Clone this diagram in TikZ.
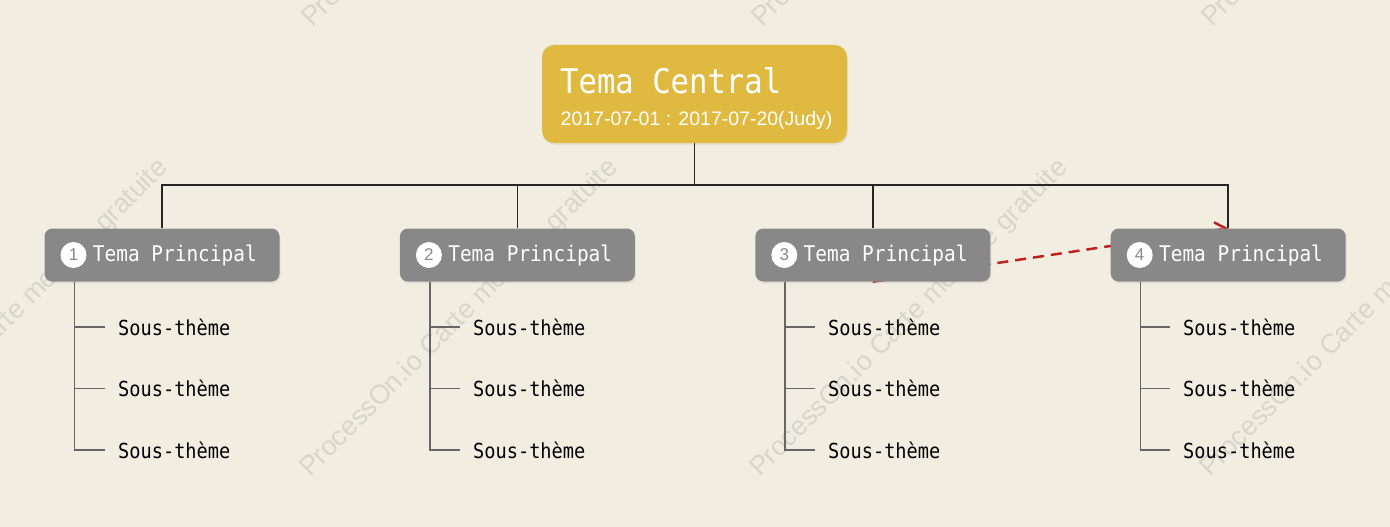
\documentclass[tikz,border=0pt]{standalone}
\usepackage{fontspec}
\setmainfont{Liberation Sans}
\newfontfamily\monofont[FakeStretch=0.9]{DejaVu Sans Mono}
\usetikzlibrary{positioning,
	calc,
	arrows.meta,
	shadows}
\definecolor{bgc}{RGB}{241,237,224}
\definecolor{gold}{RGB}{224,185,65}
\definecolor{topic}{RGB}{136,136,136}
\definecolor{wmc}{RGB}{216,213,203}
\definecolor{relc}{RGB}{192,33,31}
\pgfdeclarelayer{back}
\pgfdeclarelayer{mid}
\pgfsetlayers{back,mid,main}
\tikzstyle{ctr}=[fill=gold, rounded corners=12pt, minimum width=305pt, minimum height=98pt, inner sep=0,
		drop shadow={opacity=0.12, shadow xshift=1pt, shadow yshift=-2pt}]
\tikzstyle{ctt}=[text=white, inner sep=0, font=\monofont\fontsize{34}{34}\selectfont]
\tikzstyle{dat}=[text=white, inner sep=0, font=\fontsize{19.5}{20}\selectfont]
\tikzstyle{mt}=[fill=topic, rounded corners=8pt, minimum width=235pt, minimum height=53pt, inner sep=0,
		drop shadow={opacity=0.12, shadow xshift=1pt, shadow yshift=-2pt}]
\tikzstyle{num}=[circle, fill=white, text=topic, minimum size=26pt, inner sep=0, font=\fontsize{17}{17}\selectfont]
\tikzstyle{mtl}=[text=white, inner sep=0, font=\monofont\fontsize{21.6}{22}\selectfont]
\tikzstyle{sub}=[inner xsep=13pt, inner ysep=0, anchor=base west, font=\monofont\fontsize{20.7}{21}\selectfont]
\tikzstyle{link}=[draw=black!85, line width=1.5pt]
\tikzstyle{tick}=[draw=black!60, line width=1.6pt]
\tikzstyle{rel}=[draw=relc, line width=2.5pt, dash pattern=on 11pt off 7pt,
		-{Straight Barb[length=11pt,width=16pt]}]
\tikzstyle{wm}=[text=wmc, inner sep=0, rotate=45, anchor=base west, font=\fontsize{27}{27}\selectfont]

\begin{document}
\begin{tikzpicture}[x=1pt, y=-1pt]
	\useasboundingbox (0,0) rectangle (1390,527);
	\begin{pgfonlayer}{back}
		\fill[bgc] (0,0) rectangle (1390,527);
		\node[wm] (w1) at (-140,478) {ProcessOn.io Carte mentale gratuite};
		\node[wm] (w2) at (310,478) {ProcessOn.io Carte mentale gratuite};
		\node[wm] (w3) at (760,478) {ProcessOn.io Carte mentale gratuite};
		\node[wm] (w4) at (1210,478) {ProcessOn.io Carte mentale gratuite};
		\node[wm] (w5) at (312,28) {ProcessOn.io Carte mentale gratuite};
		\node[wm] (w6) at (762,28) {ProcessOn.io Carte mentale gratuite};
		\node[wm] (w7) at (1212,28) {ProcessOn.io Carte mentale gratuite};
	\end{pgfonlayer}

	% central topic
	\node[ctr] (ct) at (694.5,94) {};
	\node[ctt, anchor=base west] (ctl) at (560,93) {Tema Central};
	\node[dat, anchor=base west] (dt) at (560.5,125) {2017-07-01 : 2017-07-20(Judy)};

	% main topics
	\node[mt] (m1) at (162,255) {};
	\node[mt, right=120pt of m1] (m2) {};
	\node[mt, right=120pt of m2] (m3) {};
	\node[mt, right=120pt of m3] (m4) {};
	\node[num, right=16pt of m1.west] (n1) {1};
	\node[num, right=16pt of m2.west] (n2) {2};
	\node[num, right=16pt of m3.west] (n3) {3};
	\node[num, right=16pt of m4.west] (n4) {4};
	\node[mtl, right=6pt of n1] (t1) {Tema Principal};
	\node[mtl, right=6pt of n2] (t2) {Tema Principal};
	\node[mtl, right=6pt of n3] (t3) {Tema Principal};
	\node[mtl, right=6pt of n4] (t4) {Tema Principal};

	% subtopics
	\node[sub] (s11) at (105,335) {Sous-thème};
	\node[sub] (s12) at (105,396.5) {Sous-thème};
	\node[sub] (s13) at (105,458) {Sous-thème};
	\node[sub] (s21) at (460,335) {Sous-thème};
	\node[sub] (s22) at (460,396.5) {Sous-thème};
	\node[sub] (s23) at (460,458) {Sous-thème};
	\node[sub] (s31) at (815,335) {Sous-thème};
	\node[sub] (s32) at (815,396.5) {Sous-thème};
	\node[sub] (s33) at (815,458) {Sous-thème};
	\node[sub] (s41) at (1170,335) {Sous-thème};
	\node[sub] (s42) at (1170,396.5) {Sous-thème};
	\node[sub] (s43) at (1170,458) {Sous-thème};

	\begin{pgfonlayer}{mid}
		\draw[link] (ct.south) -- ++(0,42) -| (m1.north);
		\draw[link] (ct.south) -- ++(0,42) -| (m2.north);
		\draw[link] (ct.south) -- ++(0,42) -| (m3.north);
		\draw[link] (ct.south) -- ++(0,42) -| (m4.north);
		\draw[tick] ($(m1.south west)+(30,0)$) |- (s11.west);
		\draw[tick] ($(m1.south west)+(30,0)$) |- (s12.west);
		\draw[tick] ($(m1.south west)+(30,0)$) |- (s13.west);
		\draw[tick] ($(m2.south west)+(30,0)$) |- (s21.west);
		\draw[tick] ($(m2.south west)+(30,0)$) |- (s22.west);
		\draw[tick] ($(m2.south west)+(30,0)$) |- (s23.west);
		\draw[tick] ($(m3.south west)+(30,0)$) |- (s31.west);
		\draw[tick] ($(m3.south west)+(30,0)$) |- (s32.west);
		\draw[tick] ($(m3.south west)+(30,0)$) |- (s33.west);
		\draw[tick] ($(m4.south west)+(30,0)$) |- (s41.west);
		\draw[tick] ($(m4.south west)+(30,0)$) |- (s42.west);
		\draw[tick] ($(m4.south west)+(30,0)$) |- (s43.west);
		% relation 3 -> 4
		\draw[rel] (m3.south) -- (m4.north);
	\end{pgfonlayer}
\end{tikzpicture}
\end{document}
